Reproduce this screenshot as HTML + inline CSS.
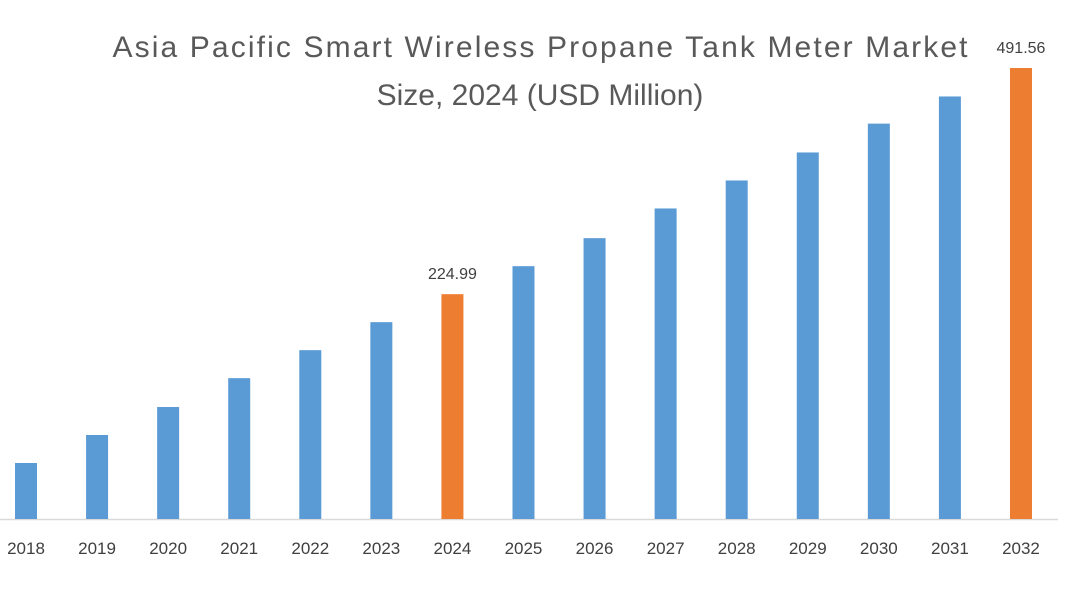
<!DOCTYPE html>
<html><head><meta charset="utf-8"><style>
body{margin:0;background:#fff;}
svg{display:block;font-family:"Liberation Sans",sans-serif;}
</style></head><body>
<svg id="chart" width="1068" height="600">
<text x="540" y="57" text-anchor="middle" font-size="30" fill="#595959" textLength="855">Asia Pacific Smart Wireless Propane Tank Meter Market</text>
<text x="540" y="105" text-anchor="middle" font-size="30" fill="#595959">Size, 2024 (USD Million)</text>
<line x1="0" y1="519.5" x2="1058" y2="519.5" stroke="#d9d9d9" stroke-width="1.5"/>
<g id="bars"></g>
</svg>
<script>
const categories=["2018","2019","2020","2021","2022","2023","2024","2025","2026","2027","2028","2029","2030","2031","2032"];
const values=[26,59,92,126,159,192,224.99,258,291,326,359,392,426,458,491.56];
const highlighted=["2024","2032"];
const labeledValues=["224.99","491.56"];
const yMin=-40,yMax=491.56,yBase=519,yTop=68;
function yScale(v){return yBase-(v-yMin)/(yMax-yMin)*(yBase-yTop);}
function xScale(i){return 26+i*71.07;}
const g=document.getElementById('bars');
const ns="http://www.w3.org/2000/svg";
categories.forEach((c,i)=>{
  const v=values[i];
  const r=document.createElementNS(ns,'rect');
  r.setAttribute('x',xScale(i)-11);
  r.setAttribute('y',yScale(v));
  r.setAttribute('width',22);
  r.setAttribute('height',yBase-yScale(v));
  r.setAttribute('fill',highlighted.includes(c)?'#ed7d31':'#5b9bd5');
  
  
  g.appendChild(r);
  const t=document.createElementNS(ns,'text');
  t.setAttribute('x',xScale(i));
  t.setAttribute('y',554);
  t.setAttribute('text-anchor','middle');
  t.setAttribute('font-size','17');
  t.setAttribute('fill','#404040');
  t.textContent=c;
  
  
  g.appendChild(t);
  if(highlighted.includes(c)){
    const l=document.createElementNS(ns,'text');
    l.setAttribute('x',xScale(i));
    l.setAttribute('y',yScale(v)-15);
    l.setAttribute('text-anchor','middle');
    l.setAttribute('font-size','16');
    l.setAttribute('fill','#404040');
    l.textContent=labeledValues[highlighted.indexOf(c)];
    
    
    g.appendChild(l);
  }
});
</script>
</body></html>
